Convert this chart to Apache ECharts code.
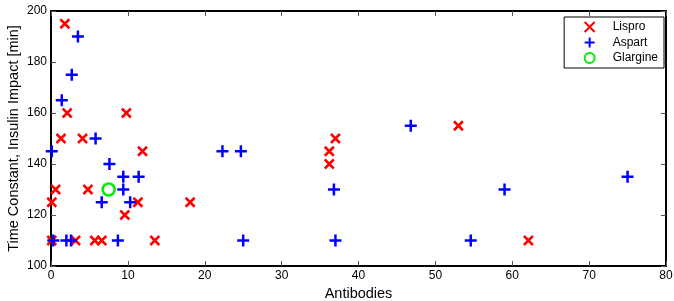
<!DOCTYPE html>
<html>
<head>
<meta charset="utf-8">
<script src="https://cdn.jsdelivr.net/npm/echarts@6/dist/echarts.min.js"></script>
<style>
  html, body { margin: 0; padding: 0; background: #fff; }
  #chart { width: 674px; height: 301px; }
</style>
</head>
<body>
<div id="chart"></div>
<script>
// antibodies vs time constant
const lispro = [
  [1.8, 195], [2.1, 160], [9.8, 160], [1.3, 150], [4.1, 150], [11.9, 145],
  [0.6, 130], [4.8, 130], [0.1, 125], [11.3, 125], [18.1, 125], [9.6, 120],
  [0.1, 110], [3.2, 110], [5.7, 110], [6.6, 110], [13.5, 110],
  [37.0, 150], [36.2, 145], [36.2, 140], [53.0, 155], [62.1, 110]
]
const aspart = [
  [3.5, 190], [2.7, 175], [1.4, 165], [5.8, 150], [0.1, 145], [22.3, 145],
  [24.7, 145], [7.6, 140], [9.4, 135], [11.4, 135], [9.4, 130], [6.6, 125],
  [10.3, 125], [0.3, 110], [2.0, 110], [2.6, 110], [8.7, 110],
  [46.8, 155], [36.8, 130], [25.0, 110], [37.0, 110], [75.0, 135], [59.0, 130], [54.6, 110]
]
const glargine = [[7.5, 130]]

const xRange = [0, 80]
const yRange = [100, 200]

const font = 'Liberation Sans, Arial, sans-serif'
const chart = echarts.init(document.getElementById('chart'))

/* 坐标轴：MATLAB 风格，四边都有刻度 */
const axisBase = {
  axisLine: { show: true, onZero: false, lineStyle: { color: '#000', width: 2 } },
  axisTick: { show: true, inside: true, length: 5, lineStyle: { color: '#555', width: 1 } },
  splitLine: { show: false }
}

const option = {
  animation: false,
  grid: { left: 51, right: 8, top: 11, bottom: 35, outerBoundsMode: 'none', containLabel: false },
  legend: {
    orient: 'vertical',
    right: 10,
    top: 17,
    width: 100,
    padding: [2.5, 6, 2.5, 18],
    itemGap: 0.5,
    itemWidth: 14,
    itemHeight: 10,
    borderColor: '#000',
    borderWidth: 1,
    backgroundColor: '#fff',
    textStyle: { fontFamily: font, fontSize: 12, lineHeight: 12, color: '#000', padding: [0, 0, 0, 11] },
    data: ['Lispro', 'Aspart', 'Glargine']
  },
  xAxis: [
    {
      ...axisBase,
      type: 'value', min: xRange[0], max: xRange[1], interval: 10,
      name: 'Antibodies', nameLocation: 'middle', nameGap: 20,
      nameTextStyle: { fontFamily: font, fontSize: 14.5, color: '#000' },
      axisLabel: { fontFamily: font, fontSize: 12, color: '#000', margin: 4 }
    },
    {
      ...axisBase,
      type: 'value', position: 'top', min: xRange[0], max: xRange[1], interval: 10,
      axisLabel: { show: false }
    }
  ],
  yAxis: [
    {
      ...axisBase,
      type: 'value', min: yRange[0], max: yRange[1], interval: 20,
      name: 'Time Constant, Insulin Impact [min]', nameLocation: 'middle', nameGap: 30,
      nameMoveOverlap: false,
      nameTextStyle: { fontFamily: font, fontSize: 14.5, color: '#000' },
      axisLabel: { fontFamily: font, fontSize: 12, color: '#000', margin: 4 }
    },
    {
      ...axisBase,
      type: 'value', position: 'right', min: yRange[0], max: yRange[1], interval: 20,
      axisLabel: { show: false }
    }
  ],
  series: [
    {
      name: 'Lispro',
      type: 'scatter',
      data: lispro,
      symbol: 'path://M0,0L10,10M10,0L0,10',
      symbolSize: 9,
      itemStyle: { color: 'none', borderColor: '#ff0000', borderWidth: 2.5, opacity: 1 }
    },
    {
      name: 'Aspart',
      type: 'scatter',
      data: aspart,
      symbol: 'path://M5,0L5,10M0,5L10,5',
      symbolSize: 12,
      itemStyle: { color: 'none', borderColor: '#0000ff', borderWidth: 2.5, opacity: 1 }
    },
    {
      name: 'Glargine',
      type: 'scatter',
      data: glargine,
      symbol: 'circle',
      symbolSize: 12,
      itemStyle: { color: 'none', borderColor: '#00ee00', borderWidth: 2.5, opacity: 1 }
    }
  ]
}

chart.setOption(option)
</script>
</body>
</html>
